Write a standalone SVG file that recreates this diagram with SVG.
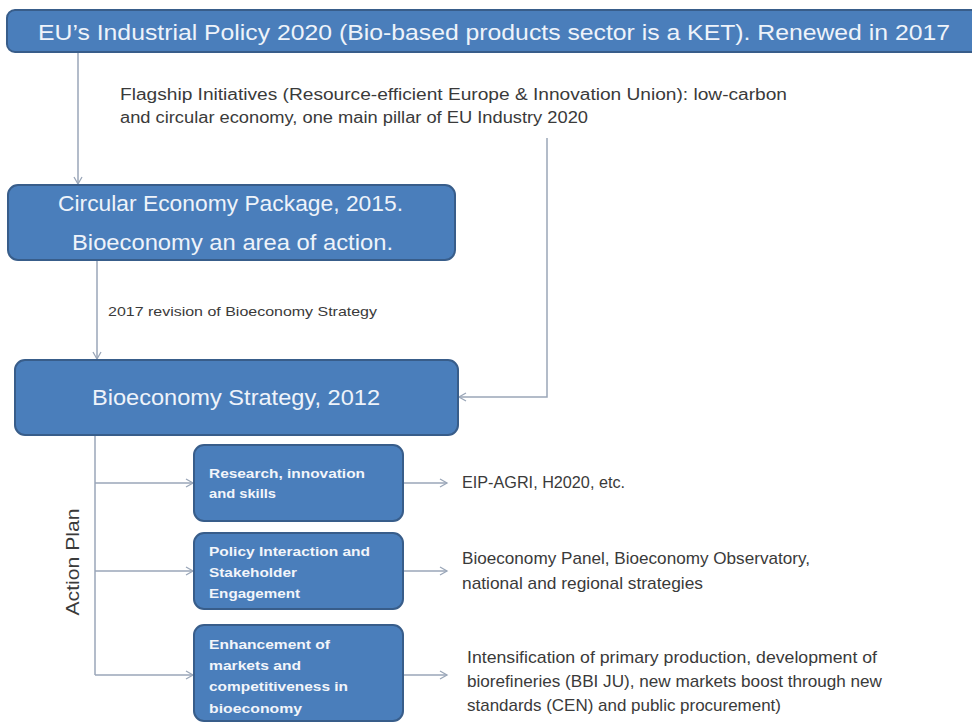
<svg xmlns="http://www.w3.org/2000/svg" width="972" height="722" viewBox="0 0 972 722">
<defs>
<marker id="arr" markerWidth="10" markerHeight="10" refX="8" refY="5" orient="auto" markerUnits="userSpaceOnUse">
<path d="M1,1 L8,5 L1,9" fill="none" stroke="#9aa6b8" stroke-width="1.3"/>
</marker>
<style>
.box{fill:#4a7ebb;stroke:#385d8a;stroke-width:2}
.bt{font-family:"Liberation Sans",Arial,sans-serif;fill:#eef3fa;font-size:22px}
.st{font-family:"Liberation Sans",Arial,sans-serif;fill:#f2f5fa;font-size:13px;font-weight:bold}
.lt{font-family:"Liberation Sans",Arial,sans-serif;fill:#3a3a3a;font-size:16px}
.ln{fill:none;stroke:#9aa6b8;stroke-width:1.5}
</style>
</defs>
<rect width="972" height="722" fill="#ffffff"/>
<g id="connectors">
<path class="ln" d="M78,52 V184" marker-end="url(#arr)"/>
<path class="ln" d="M97,260 V359" marker-end="url(#arr)"/>
<path class="ln" d="M547,138 V397 H459" marker-end="url(#arr)"/>
<path class="ln" d="M95,435 V675"/>
<path class="ln" d="M95,483 H193" marker-end="url(#arr)"/>
<path class="ln" d="M95,571 H193" marker-end="url(#arr)"/>
<path class="ln" d="M95,675 H193" marker-end="url(#arr)"/>
<path class="ln" d="M403,483 H447" marker-end="url(#arr)"/>
<path class="ln" d="M403,571 H447" marker-end="url(#arr)"/>
<path class="ln" d="M403,675 H447" marker-end="url(#arr)"/>
</g>
<g id="industrial-policy">
<rect class="box" x="7" y="10" width="975" height="42" rx="8"/>
<text class="bt" x="38" y="40" textLength="912" lengthAdjust="spacingAndGlyphs">EU’s Industrial Policy 2020 (Bio-based products sector is a KET). Renewed in 2017</text>
</g>
<g id="flagship-label">
<text class="lt" x="120" y="100" textLength="667" lengthAdjust="spacingAndGlyphs">Flagship Initiatives (Resource-efficient Europe &amp; Innovation Union): low-carbon</text>
<text class="lt" x="120" y="123" textLength="468" lengthAdjust="spacingAndGlyphs">and circular economy, one main pillar of EU Industry 2020</text>
</g>
<g id="circular-economy">
<rect class="box" x="8" y="185" width="447" height="75" rx="10"/>
<text class="bt" x="58" y="211" textLength="345" lengthAdjust="spacingAndGlyphs">Circular Economy Package, 2015.</text>
<text class="bt" x="72" y="250" textLength="321" lengthAdjust="spacingAndGlyphs">Bioeconomy an area of action.</text>
</g>
<g id="revision-label">
<text class="lt" x="108" y="316" style="font-size:13px" textLength="269" lengthAdjust="spacingAndGlyphs">2017 revision of Bioeconomy Strategy</text>
</g>
<g id="bioeconomy-strategy">
<rect class="box" x="15" y="360" width="443" height="75" rx="10"/>
<text class="bt" x="92" y="405" textLength="288" lengthAdjust="spacingAndGlyphs">Bioeconomy Strategy, 2012</text>
</g>
<g id="action-plan-label">
<text class="lt" transform="translate(79,562) rotate(-90)" text-anchor="middle" style="font-size:18px" textLength="107" lengthAdjust="spacingAndGlyphs">Action Plan</text>
</g>
<g id="research">
<rect class="box" x="194" y="445" width="209" height="76" rx="10"/>
<text class="st" x="209" y="478" textLength="156" lengthAdjust="spacingAndGlyphs">Research, innovation</text>
<text class="st" x="209" y="498" textLength="67" lengthAdjust="spacingAndGlyphs">and skills</text>
</g>
<g id="policy-interaction">
<rect class="box" x="194" y="533" width="209" height="76" rx="10"/>
<text class="st" x="209" y="556" textLength="161" lengthAdjust="spacingAndGlyphs">Policy Interaction and</text>
<text class="st" x="209" y="577" textLength="88" lengthAdjust="spacingAndGlyphs">Stakeholder</text>
<text class="st" x="209" y="598" textLength="91" lengthAdjust="spacingAndGlyphs">Engagement</text>
</g>
<g id="enhancement">
<rect class="box" x="194" y="625" width="209" height="96" rx="10"/>
<text class="st" x="209" y="649" textLength="121" lengthAdjust="spacingAndGlyphs">Enhancement of</text>
<text class="st" x="209" y="670" textLength="92" lengthAdjust="spacingAndGlyphs">markets and</text>
<text class="st" x="209" y="691" textLength="139" lengthAdjust="spacingAndGlyphs">competitiveness in</text>
<text class="st" x="209" y="713" textLength="93" lengthAdjust="spacingAndGlyphs">bioeconomy</text>
</g>
<g id="eip-agri">
<text class="lt" x="462" y="488" style="font-size:17px" textLength="163" lengthAdjust="spacingAndGlyphs">EIP-AGRI, H2020, etc.</text>
</g>
<g id="bioeconomy-panel">
<text class="lt" x="462" y="564" style="font-size:17px" textLength="348" lengthAdjust="spacingAndGlyphs">Bioeconomy Panel, Bioeconomy Observatory,</text>
<text class="lt" x="462" y="589" style="font-size:17px" textLength="241" lengthAdjust="spacingAndGlyphs">national and regional strategies</text>
</g>
<g id="intensification">
<text class="lt" x="467" y="663" style="font-size:17px" textLength="410" lengthAdjust="spacingAndGlyphs">Intensification of primary production, development of</text>
<text class="lt" x="467" y="687" style="font-size:17px" textLength="415" lengthAdjust="spacingAndGlyphs">biorefineries (BBI JU), new markets boost through new</text>
<text class="lt" x="467" y="711" style="font-size:17px" textLength="314" lengthAdjust="spacingAndGlyphs">standards (CEN) and public procurement)</text>
</g>
</svg>
